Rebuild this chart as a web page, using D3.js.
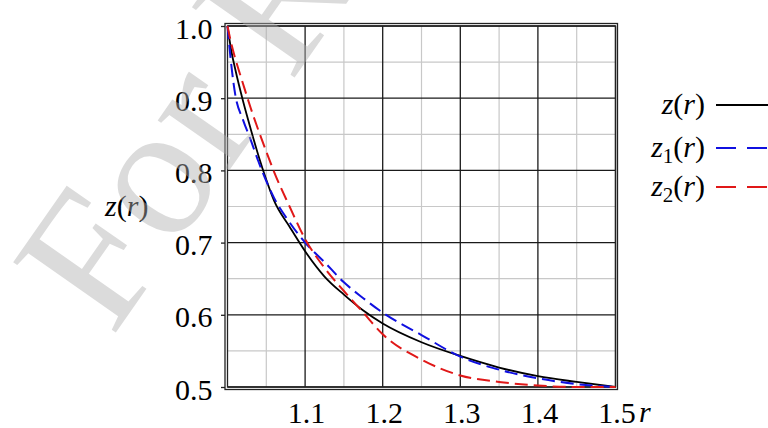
<!DOCTYPE html>
<html>
<head>
<meta charset="utf-8">
<script src="https://cdn.jsdelivr.net/npm/d3@7/dist/d3.min.js"></script>
<style>
  body { margin: 0; background: #fff; }
  svg text { font-family: "Liberation Serif", "Times New Roman", Times, serif; }
</style>
</head>
<body>
<svg id="chart" width="768" height="428"></svg>
<script>
// data
var rValues = [1.0, 1.005, 1.01, 1.02, 1.03, 1.04, 1.05, 1.06, 1.08, 1.10, 1.125, 1.15, 1.175, 1.20, 1.25, 1.30, 1.35, 1.40, 1.45, 1.50];
var zExact  = [1.0, 0.965, 0.940, 0.896, 0.857, 0.820, 0.787, 0.758, 0.722, 0.688, 0.653, 0.628, 0.606, 0.588, 0.562, 0.543, 0.527, 0.515, 0.507, 0.500];
var zOne    = [1.0, 0.945, 0.905, 0.870, 0.842, 0.812, 0.785, 0.762, 0.728, 0.700, 0.673, 0.645, 0.623, 0.603, 0.572, 0.542, 0.524, 0.512, 0.504, 0.500];
var zTwo    = [1.0, 0.975, 0.955, 0.920, 0.886, 0.855, 0.826, 0.798, 0.750, 0.705, 0.665, 0.633, 0.603, 0.573, 0.538, 0.516, 0.507, 0.502, 0.500, 0.500];
var seriesSub = ["", "1", "2"];
var seriesColor = ["#000000", "#1010e0", "#e01818"];
var xTicks = [1.1, 1.2, 1.3, 1.4, 1.5];
var yTicks = [0.5, 0.6, 0.7, 0.8, 0.9, 1.0];
var minorTicks = [1.05, 1.15, 1.25, 1.35, 1.45];
var yMinor = [0.55, 0.65, 0.75, 0.85, 0.95];

var svg = d3.select("#chart");
var pLeft = 227.5, pRight = 615.5, pTop = 26, pBottom = 387;
var serif = "'Liberation Serif', 'Times New Roman', Times, serif";
var fs = "30px";

var x = d3.scaleLinear().domain([1.0, 1.5]).range([pLeft, pRight]);
var y = d3.scaleLinear().domain([0.5, 1.0]).range([pBottom, pTop]);

//网格
var grid = svg.append("g");
grid.selectAll(".vminor").data(minorTicks).enter().append("line")
  .attr("x1", function(d) { return x(d); }).attr("x2", function(d) { return x(d); })
  .attr("y1", pTop).attr("y2", pBottom)
  .style("stroke", "#c8c8c8").style("stroke-width", "1.2px");
grid.selectAll(".hminor").data(yMinor).enter().append("line")
  .attr("x1", pLeft).attr("x2", pRight)
  .attr("y1", function(d) { return y(d); }).attr("y2", function(d) { return y(d); })
  .style("stroke", "#c8c8c8").style("stroke-width", "1.2px");
grid.selectAll(".vmajor").data(xTicks).enter().append("line")
  .attr("x1", function(d) { return x(d); }).attr("x2", function(d) { return x(d); })
  .attr("y1", pTop).attr("y2", pBottom)
  .style("stroke", "#1a1a1a").style("stroke-width", "1.3px");
grid.selectAll(".hmajor").data(yTicks).enter().append("line")
  .attr("x1", pLeft).attr("x2", pRight)
  .attr("y1", function(d) { return y(d); }).attr("y2", function(d) { return y(d); })
  .style("stroke", "#1a1a1a").style("stroke-width", "1.3px");

//边框 (double line)
svg.append("rect")
  .attr("x", pLeft).attr("y", pTop).attr("width", pRight - pLeft).attr("height", pBottom - pTop)
  .style("fill", "none").style("stroke", "#222").style("stroke-width", "1.3px");
svg.append("rect")
  .attr("x", pLeft - 2.5).attr("y", pTop - 2.5).attr("width", pRight - pLeft + 4.5).attr("height", pBottom - pTop + 5)
  .style("fill", "none").style("stroke", "#222").style("stroke-width", "1.3px");

//y轴刻度
var yAxis = svg.append("g")
  .attr("transform", "translate(" + (pLeft - 2.5) + ",0)")
  .call(d3.axisLeft(y).tickValues(yTicks).tickSize(4).tickPadding(8).tickFormat(d3.format(".1f")));
yAxis.select(".domain").remove();
yAxis.selectAll("line").style("stroke", "#222").style("stroke-width", "1.3px");
yAxis.selectAll("text")
  .attr("dy", "12").attr("x", -12.5)
  .style("font-size", fs).style("fill", "#000").style("font-family", serif);

//x轴刻度
var xAxis = svg.append("g")
  .attr("transform", "translate(0," + (pBottom + 2.5) + ")")
  .call(d3.axisBottom(x).tickValues(xTicks).tickSize(0).tickFormat(d3.format(".1f")));
xAxis.select(".domain").remove();
xAxis.selectAll("text")
  .attr("y", 0).attr("dy", "33").attr("dx", "1")
  .style("font-size", fs).style("fill", "#000").style("font-family", serif);

svg.append("text")
  .attr("x", 639).attr("y", 422)
  .style("font-size", fs).style("font-style", "italic")
  .text("r");

// z(r) 轴标题
function fnLabel(sel, sub) {
  sel.append("tspan").style("font-style", "italic").text("z");
  if (sub) {
    sel.append("tspan").attr("dy", 6).style("font-size", "21px").text(sub);
    sel.append("tspan").attr("dy", -6).text("(");
  } else {
    sel.append("tspan").text("(");
  }
  sel.append("tspan").style("font-style", "italic").text("r");
  sel.append("tspan").text(")");
}
var yTitle = svg.append("text").attr("x", 105).attr("y", 216).style("font-size", fs);
fnLabel(yTitle, "");

//曲线
var line = d3.line()
  .x(function(d) { return x(d[0]); })
  .y(function(d) { return y(d[1]); })
  .curve(d3.curveMonotoneX);
var allSeries = [zExact, zOne, zTwo];
var curves = svg.append("g");
allSeries.forEach(function(vals, i) {
  var pts = rValues.map(function(r, k) { return [r, vals[k]]; });
  curves.append("path")
    .datum(pts)
    .attr("d", line)
    .style("fill", "none")
    .style("stroke", seriesColor[i])
    .style("stroke-width", i === 0 ? "1.8px" : "2px")
    .style("stroke-dasharray", i === 0 ? null : "13,6");
});

//图例
var legendY = [114, 157, 196];
var legend = svg.append("g");
seriesSub.forEach(function(sub, i) {
  var t = legend.append("text")
    .attr("x", 705).attr("y", legendY[i])
    .attr("text-anchor", "end")
    .style("font-size", fs);
  fnLabel(t, sub);
  legend.append("line")
    .attr("x1", 716).attr("x2", 770)
    .attr("y1", legendY[i] - 9).attr("y2", legendY[i] - 9)
    .style("stroke", seriesColor[i])
    .style("stroke-width", "2px")
    .style("stroke-dasharray", i === 0 ? null : "20,11");
});

// watermark
svg.append("text")
  .attr("transform", "translate(112,338) rotate(-55)")
  .style("font-size", "190px")
  .style("fill", "#b0b0b0")
  .style("opacity", 0.45)
  .text("For Review Only");
</script>
</body>
</html>
